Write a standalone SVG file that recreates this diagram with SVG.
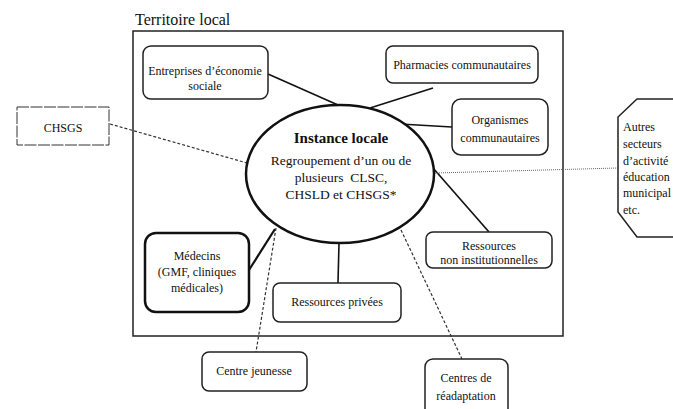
<svg xmlns="http://www.w3.org/2000/svg" width="673" height="409" viewBox="0 0 673 409" font-family="'Liberation Serif', 'DejaVu Serif', serif">
<style>
text{font-family:'Liberation Serif','Times New Roman',serif;fill:#111;font-size:12px}
.c{text-anchor:middle}
.box{fill:#fff;stroke:#222;stroke-width:1.5}
.solid{stroke:#111;stroke-width:1.6;fill:none}
.dash{stroke:#333;stroke-width:1.2;stroke-dasharray:3,2;fill:none}
</style>
<rect width="673" height="409" fill="#fff"/>
<g id="territoire">
<text x="135" y="25" style="font-size:16px">Territoire local</text>
<rect x="133" y="31" width="430" height="305" fill="none" stroke="#222" stroke-width="1.5"/>
</g>
<g id="connectors">
<line class="solid" x1="268" y1="74" x2="338" y2="105"/>
<line class="solid" x1="433" y1="88" x2="370" y2="108"/>
<line class="solid" x1="400" y1="124" x2="452" y2="127"/>
<line class="solid" x1="433" y1="168" x2="489" y2="232"/>
<line class="solid" x1="339" y1="243" x2="338" y2="283"/>
<line x1="249" y1="270" x2="275" y2="229" stroke="#111" stroke-width="2.2"/>
<line class="dash" x1="110" y1="124" x2="247" y2="163"/>
<line class="dash" x1="276" y1="228" x2="256" y2="352"/>
<line class="dash" x1="401" y1="230" x2="462" y2="359"/>
<line x1="435" y1="173" x2="618" y2="168" stroke="#666" stroke-width="1" stroke-dasharray="1,1"/>
</g>
<g id="instance">
<ellipse cx="340" cy="174" rx="94" ry="69" fill="#fff" stroke="#111" stroke-width="2.5"/>
<text class="c" x="341" y="143" style="font-size:15px;font-weight:bold">Instance locale</text>
<text class="c" x="341" y="165" style="font-size:13.5px">Regroupement d’un ou de</text>
<text class="c" x="341" y="182" style="font-size:13.5px" xml:space="preserve">plusieurs  CLSC,</text>
<text class="c" x="341" y="199" style="font-size:13.5px">CHSLD et CHSGS*</text>
</g>
<g id="entreprises">
<rect class="box" x="143" y="46" width="125" height="53" rx="8"/>
<text class="c" x="205" y="75">Entreprises d’économie</text>
<text class="c" x="205" y="90">sociale</text>
</g>
<g id="pharmacies">
<rect class="box" x="386" y="46" width="152" height="37" rx="7"/>
<text class="c" x="462" y="69">Pharmacies communautaires</text>
</g>
<g id="organismes">
<rect class="box" x="452" y="99" width="96" height="56" rx="9"/>
<text class="c" x="500" y="124">Organismes</text>
<text class="c" x="500" y="142">communautaires</text>
</g>
<g id="chsgs">
<rect x="17" y="107" width="92" height="38" fill="#fff" stroke="#333" stroke-width="1" stroke-dasharray="12,1.5"/>
<text class="c" x="63" y="132">CHSGS</text>
</g>
<g id="autres">
<polygon points="637,99 690,99 710,117 710,212 690,237 637,237 618,212 618,117" fill="#fff" stroke="#222" stroke-width="1.5"/>
<text x="623" y="131">Autres</text>
<text x="623" y="148">secteurs</text>
<text x="623" y="165">d’activité</text>
<text x="623" y="181">éducation</text>
<text x="623" y="197">municipal</text>
<text x="623" y="214">etc.</text>
</g>
<g id="medecins">
<rect x="145" y="233" width="104" height="79" rx="11" fill="#fff" stroke="#111" stroke-width="2.5"/>
<text class="c" x="197" y="260">Médecins</text>
<text class="c" x="197" y="276">(GMF, cliniques</text>
<text class="c" x="197" y="292">médicales)</text>
</g>
<g id="privees">
<rect class="box" x="273" y="283" width="128" height="39" rx="7"/>
<text class="c" x="337" y="306">Ressources privées</text>
</g>
<g id="nonInst">
<rect class="box" x="426" y="232" width="126" height="36" rx="7"/>
<text class="c" x="489" y="250">Ressources</text>
<text class="c" x="489" y="264">non institutionnelles</text>
</g>
<g id="jeunesse">
<rect class="box" x="202" y="352" width="105" height="39" rx="7"/>
<text class="c" x="254" y="375">Centre jeunesse</text>
</g>
<g id="readaptation">
<rect class="box" x="425" y="359" width="83" height="60" rx="8"/>
<text class="c" x="466" y="382">Centres de</text>
<text class="c" x="466" y="400">réadaptation</text>
</g>
</svg>
